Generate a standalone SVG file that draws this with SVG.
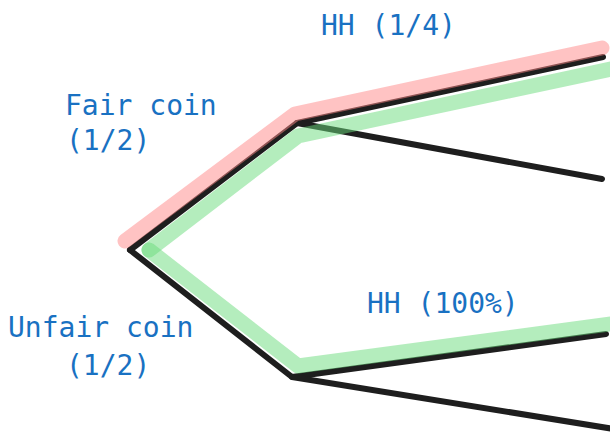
<svg xmlns="http://www.w3.org/2000/svg" width="610" height="432" viewBox="0 0 610 432">
<style>
.edge{fill:none;stroke:#1e1e1e;stroke-width:6;stroke-linecap:round;stroke-linejoin:round}
.hl{fill:none;stroke-width:15;stroke-linecap:round;stroke-linejoin:round;opacity:0.5}
.red{stroke:#ff8787}
.green{stroke:#69db7c}
text{font-family:"DejaVu Sans Mono","Liberation Mono",monospace;font-size:28px;fill:#1971c2}
</style>
<rect width="610" height="432" fill="#ffffff"/>
<g id="connectors">
<polyline class="edge" points="130,250 297,123 603,57"/>
<polyline class="edge" points="297,123 602,179"/>
<polyline class="edge" points="130,250 292,377 606,334"/>
<polyline class="edge" points="292,377 620,430"/>
<polyline class="hl red" points="125,241 295,114 602,48"/>
<polyline class="hl green" points="149,250 298,136 625,66"/>
<polyline class="hl green" points="149,250 298,366 625,322"/>
</g>
<g id="label-fair"><text x="65" y="115">Fair coin</text><text x="66" y="150">(1/2)</text></g>
<g id="label-unfair"><text x="8" y="337">Unfair coin</text><text x="66" y="375">(1/2)</text></g>
<g id="label-hh14"><text x="321" y="35">HH (1/4)</text></g>
<g id="label-hh100"><text x="367" y="313">HH (100%)</text></g>
</svg>
